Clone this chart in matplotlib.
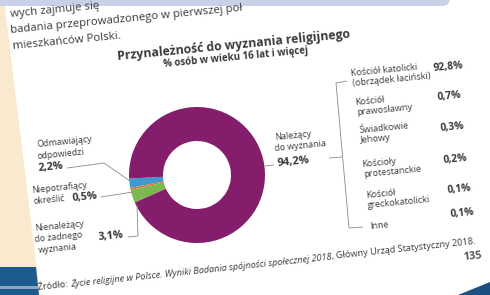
import math
import matplotlib
matplotlib.use("Agg")
import matplotlib.pyplot as plt
from matplotlib.patches import Polygon, FancyBboxPatch

plt.rcParams['font.family'] = ['Open Sans', 'DejaVu Sans']

# donut data (share of people aged 16+)
slice_names = ["Odmawiający odpowiedzi", "Niepotrafiący określić",
               "Nienależący do żadnego wyznania", "Należący do wyznania"]
slice_values = [2.2, 0.5, 3.1, 94.2]
slice_colors = ["#3d9bd0", "#e0704c", "#7db84e", "#841d6b"]

# breakdown of "Należący do wyznania"
church_names = ["Kościół katolicki\n(obrządek łaciński)", "Kościół\nprawosławny",
                "Świadkowie\nJehowy", "Kościoły\nprotestanckie",
                "Kościół\ngreckokatolicki", "Inne"]
church_values = [92.8, 0.7, 0.3, 0.2, 0.1, 0.1]

title = "Przynależność do wyznania religijnego"
subtitle = "% osób w wieku 16 lat i więcej"
source_runs = [("Źródło: ", "normal"),
               ("Życie religijne w Polsce. Wyniki Badania spójności społecznej 2018", "italic"),
               (", Główny Urząd Statystyczny 2018.", "normal")]

W, H = 490, 295
ROT = 5.5
TXT = "#3a3a3a"
LN = "#8a8a8a"


def pct(v):
    return f"{v:.1f}".replace(".", ",") + "%"


def Y(y):
    return H - y


def put(x, y, s, size=6.4, bold=False, rot=ROT, va="center", **kw):
    return ax.text(x, Y(y), s, fontsize=size, fontweight="bold" if bold else "normal",
                   color=kw.pop("color", TXT), rotation=rot, rotation_mode="anchor",
                   ha="left", va=va, **kw)


def line(xs, ys):
    ax.plot(xs, [Y(v) for v in ys], color=LN, lw=0.6, solid_capstyle="butt")


fig = plt.figure(figsize=(4.9, 2.95), dpi=100)
ax = fig.add_axes([0, 0, 1, 1])
rend = fig.canvas.get_renderer()


def text_width(s, size, style):
    # measure with a visible end mark so a trailing space counts
    t = ax.text(0, 0, s + "|", fontsize=size, style=style)
    m = ax.text(0, 0, "|", fontsize=size, style=style)
    w = t.get_window_extent(rend).width - m.get_window_extent(rend).width
    t.remove()
    m.remove()
    return w


# page background and surroundings
ax.add_patch(Polygon([(0, H), (0, 0), (40, 0), (4, H)], closed=True,
                     facecolor="#f8e9cf", edgecolor="none", zorder=0))
ax.add_patch(Polygon([(0, Y(267)), (36, Y(267)), (39, 0), (0, 0)], closed=True,
                     facecolor="#1c5b8e", edgecolor="none", zorder=1))
ax.add_patch(Polygon([(0, Y(286)), (38, Y(286)), (38, Y(289)), (0, Y(289))], closed=True,
                     facecolor="#8ca4c0", edgecolor="none", zorder=1))
ax.add_patch(Polygon([(458, 0), (490, Y(282)), (490, 0)], closed=True,
                     facecolor="#1c4f80", edgecolor="none", zorder=1))
ax.add_patch(FancyBboxPatch((-20, Y(6)), 470, 30, boxstyle="round,pad=0,rounding_size=8",
                            facecolor="#c9d0e8", edgecolor="none", zorder=3))

# intro paragraph (cut off by the photo)
put(10, 15, "wych zajmuje się", size=8.2)
put(10, 31, "badania przeprowadzonego w pierwszej poł", size=8.2)
put(13, 47, "mieszkańców Polski.", size=8.2)

# titles
put(117, 57, title, size=8.8, bold=True)
put(163, 65, subtitle, size=7.0, bold=True)

# donut
ax.pie(slice_values, colors=slice_colors, startangle=183, counterclock=True,
       radius=68, center=(197, Y(175)),
       wedgeprops=dict(width=34, edgecolor="none"))

# left labels
put(37, 145, "Odmawiający")
put(37, 157, "odpowiedzi")
put(38, 169, pct(slice_values[0]), size=7.8, bold=True)
line([67, 104, 130], [168, 163, 181])

put(32, 191, "Niepotrafiący")
put(33, 202, "określić")
put(72, 199, pct(slice_values[1]), size=7.8, bold=True)
line([101, 133], [197, 192])

put(35, 229, "Nienależący")
put(35, 240, "do żadnego")
put(38, 251, "wyznania")
put(98, 238, pct(slice_values[2]), size=7.8, bold=True)
line([128, 138, 137], [237, 236, 205])

# right label and breakdown
put(275, 138, "Należący")
put(275, 149, "do wyznania")
put(277, 164, pct(slice_values[3]), size=8.0, bold=True)
line([265, 274], [166, 165])
line([329, 342], [158, 157])
line([347, 336, 349, 363], [81, 83, 228, 227])

name_pos = [(351, 74), (355, 103), (359, 131), (362, 165), (366, 196), (370, 227)]
val_pos = [(433, 69), (437, 98), (440, 129), (443, 161), (447, 191), (450, 215)]
for name, v, (nx, ny), (vx, vy) in zip(church_names, church_values, name_pos, val_pos):
    for k, part in enumerate(name.split("\n")):
        put(nx + 1.5 * k, ny + 9.5 * k, part, size=6.6)
    put(vx, vy, pct(v), size=7.4, bold=True)

# source line, italic title of the publication
fx, fy, frot, fsize = 38.0, 290.0, 6.0, 6.6
for s, style in source_runs:
    put(fx, fy, s, size=fsize, rot=frot, va="baseline", style=style)
    w = text_width(s, fsize, style)
    fx += w * math.cos(math.radians(frot))
    fy -= w * math.sin(math.radians(frot))

put(463, 258, "135", size=8.0, bold=True, color="#555555")

ax.set_xlim(0, W)
ax.set_ylim(0, H)
ax.set_aspect("auto")
ax.axis("off")
fig.savefig("out.png", dpi=100)
